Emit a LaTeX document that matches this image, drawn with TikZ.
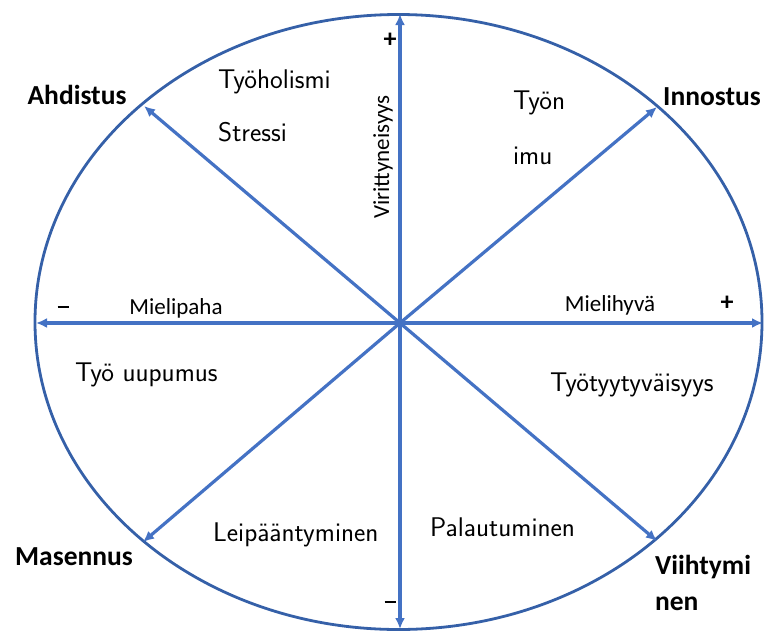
\documentclass[tikz,border=0pt]{standalone}
\usepackage{fontspec}
\setmainfont{Carlito}
\usetikzlibrary{arrows.meta}
\definecolor{axisblue}{HTML}{4472C4}
\definecolor{ringblue}{HTML}{3560A8}
\begin{document}
\begin{tikzpicture}[x=1pt,y=-1pt,
  axis/.style={draw=axisblue,line width=3.2pt,-{Latex[length=11pt,width=10pt]}},
  corner/.style={font=\fontsize{27.5}{32}\selectfont\bfseries,inner sep=0pt,align=left},
  axislabel/.style={font=\fontsize{23}{27}\selectfont,inner sep=0pt},
  sign/.style={font=\fontsize{26}{28}\selectfont\bfseries,inner sep=0pt},
  hand/.style={font=\sffamily\fontsize{27}{31}\selectfont,inner sep=0pt,anchor=west}]
\useasboundingbox (0,0) rectangle (764,630);
\draw[ringblue,line width=2.8pt] (398.5,322) ellipse [x radius=363.5,y radius=307.5];
\coordinate (o) at (400,323);
\coordinate (up) at (400,14);
\coordinate (down) at (400,629);
\coordinate (left) at (36,323);
\coordinate (right) at (763,323);
\coordinate (nw) at (144,106);
\coordinate (ne) at (657,107);
\coordinate (sw) at (143,542);
\coordinate (se) at (657,541);
\foreach \t in {up,down,left,right,nw,ne,sw,se}
  \draw[axis] (o) -- (\t);
\node[corner] (ahd) at (77,95) {Ahdistus};
\node[corner] (inn) at (712,97) {Innostus};
\node[corner] (mas) at (74,557) {Masennus};
\node[corner,font=\fontsize{27.5}{36}\selectfont\bfseries] (vii) at (703,583) {Viihtymi\\nen};
\node[axislabel] (mpa) at (176,308) {Mielipaha};
\node[axislabel] (mhy) at (610,305) {Mielihyvä};
\node[axislabel,rotate=90] (vir) at (383,157) {Virittyneisyys};
\node[sign] (pt) at (390,40) {+};
\node[sign] (pr) at (727,303) {+};
\node[inner sep=0pt] (ml) at (63,307) {\rule{11pt}{2.6pt}};
\node[inner sep=0pt] (mb) at (390,602) {\rule{11pt}{2.6pt}};
\node[hand] (tyh) at (218,82) {Työholismi};
\node[hand] (str) at (218,132) {Stressi};
\node[hand] (tyn) at (513,103) {Työn};
\node[hand] (imu) at (513,156) {imu};
\node[hand] (uup) at (75,375) {Työ uupumus};
\node[hand] (lei) at (213,535) {Leipääntyminen};
\node[hand] (pal) at (430,527) {Palautuminen};
\node[hand] (tyt) at (550,385) {Työtyytyväisyys};
\end{tikzpicture}
\end{document}
